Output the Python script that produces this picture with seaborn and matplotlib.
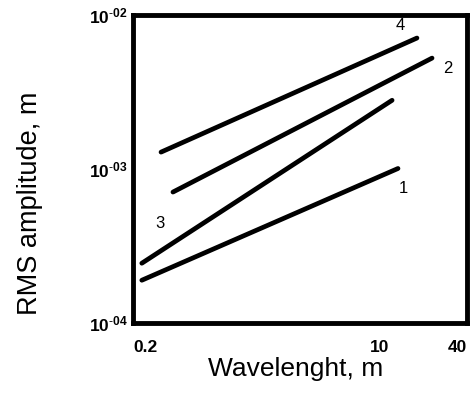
import matplotlib
matplotlib.use("Agg")
import matplotlib.pyplot as plt
import matplotlib.ticker as mticker
import seaborn as sns
import pandas as pd

# ---- data ----
curve_ids = ["1", "2", "3", "4"]
wavelength_1 = [0.23, 13.4]
amplitude_1 = [1.9e-4, 1.01e-3]
wavelength_2 = [0.377, 23.0]
amplitude_2 = [7.1e-4, 5.26e-3]
wavelength_3 = [0.23, 12.2]
amplitude_3 = [2.45e-4, 2.8e-3]
wavelength_4 = [0.312, 18.1]
amplitude_4 = [1.29e-3, 7.1e-3]

label_x = [14.5, 29.6, 0.307, 13.8]
label_y = [7.5e-4, 4.5e-3, 4.45e-4, 8.6e-3]

x_ticks = [0.2, 10, 40]
x_tick_labels = ["0.2", "10", "40"]
y_ticks = [1e-4, 1e-3, 1e-2]
y_tick_labels = [r"$\mathbf{10}^{\mathbf{\text{-}04}}$",
                 r"$\mathbf{10}^{\mathbf{\text{-}03}}$",
                 r"$\mathbf{10}^{\mathbf{\text{-}02}}$"]

frames = []
for cid, xs, ys in zip(curve_ids,
                       [wavelength_1, wavelength_2, wavelength_3, wavelength_4],
                       [amplitude_1, amplitude_2, amplitude_3, amplitude_4]):
    frames.append(pd.DataFrame({"curve": cid, "wavelength": xs, "amplitude": ys}))
df = pd.concat(frames, ignore_index=True)

sns.set_theme(style="white")
plt.rcParams["font.family"] = ["Liberation Sans", "DejaVu Sans"]
plt.rcParams["mathtext.fontset"] = "custom"
plt.rcParams["mathtext.rm"] = "Liberation Sans"
plt.rcParams["mathtext.it"] = "Liberation Sans"
plt.rcParams["mathtext.bf"] = "Liberation Sans:bold"

fig = plt.figure(figsize=(4.75, 3.98), dpi=100)
ax = fig.add_axes([0.28, 0.188, 0.703, 0.774])

sns.lineplot(data=df, x="wavelength", y="amplitude", units="curve",
             estimator=None, color="black", linewidth=3.4, ax=ax)

ax.set_xscale("log")
ax.set_yscale("log")
ax.set_xlim(0.2, 40)
ax.set_ylim(1e-4, 1e-2)

ax.xaxis.set_major_locator(mticker.FixedLocator(x_ticks))
ax.xaxis.set_minor_locator(mticker.NullLocator())
ax.set_xticklabels(x_tick_labels, fontsize=12.5, fontweight="bold")
ax.yaxis.set_major_locator(mticker.FixedLocator(y_ticks))
ax.yaxis.set_minor_locator(mticker.NullLocator())
ax.set_yticklabels(y_tick_labels, fontsize=12.5)
xl = ax.get_xticklabels()
xl[0].set_horizontalalignment("left")
xl[-1].set_horizontalalignment("right")
ax.tick_params(axis="both", length=0, colors="black")
ax.tick_params(axis="x", pad=12)
ax.tick_params(axis="y", pad=4)

for sp in ax.spines.values():
    sp.set_visible(True)
    sp.set_color("black")
    sp.set_linewidth(3.5)

for cid, lx, ly in zip(curve_ids, label_x, label_y):
    ax.text(lx, ly, cid, fontsize=12, ha="center", va="center", color="black")

ax.set_xlabel("Wavelenght, m", fontsize=19, color="black")
ax.set_ylabel("RMS amplitude, m", fontsize=19.5, color="black")
ax.xaxis.set_label_coords(0.488, -0.11)
ax.yaxis.set_label_coords(-0.27, 0.39)

fig.savefig("out.png", dpi=100, facecolor="white")
